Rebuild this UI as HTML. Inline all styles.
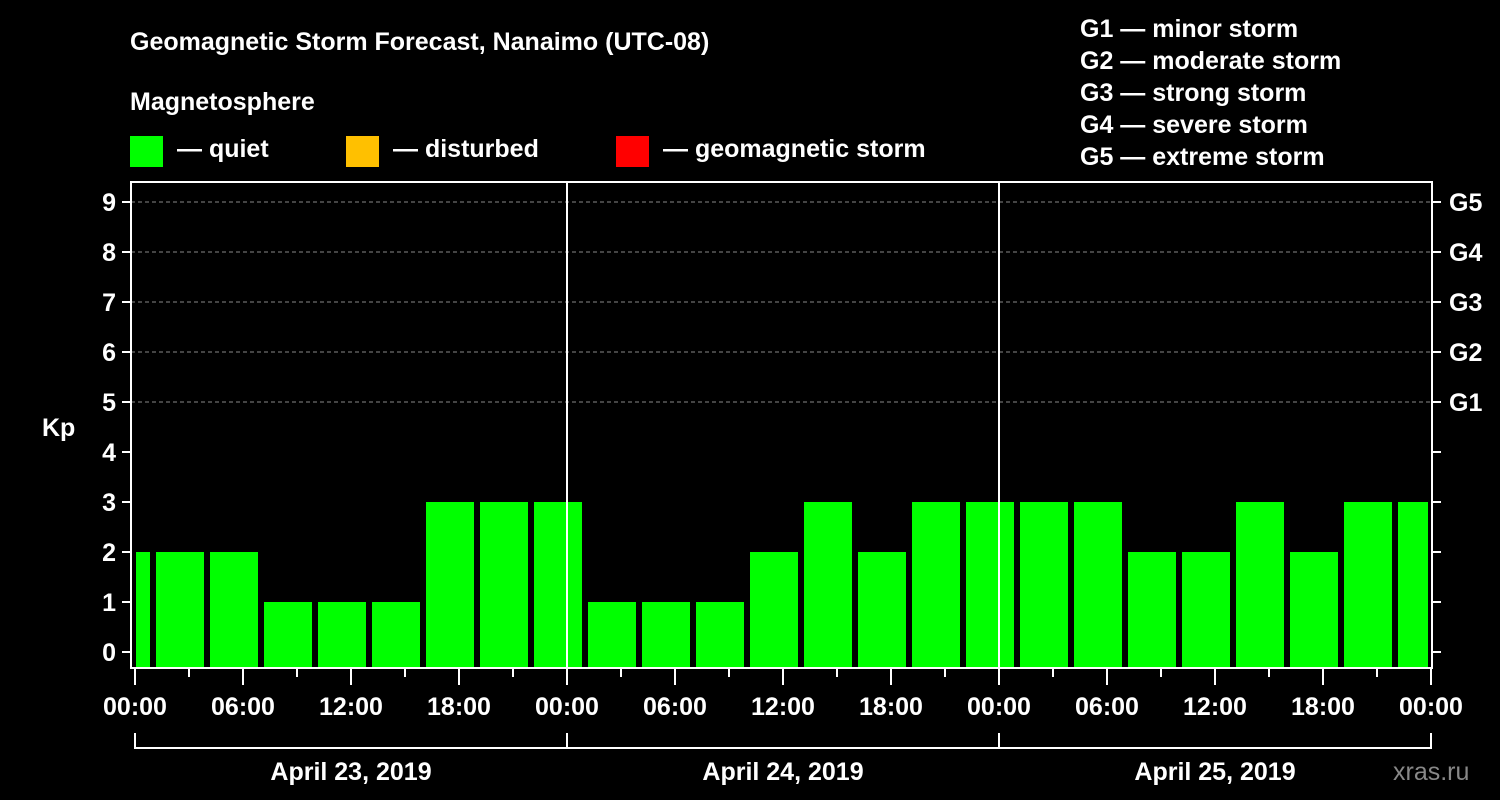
<!DOCTYPE html>
<html><head><meta charset="utf-8"><style>
body{margin:0;background:#000;}
svg{display:block;font-family:"Liberation Sans",sans-serif;font-weight:bold;}
</style></head><body>
<svg id="c" width="1500" height="800">
<rect x="0" y="0" width="1500" height="800" fill="#000"/>
<text x="130" y="50" fill="#fff" font-size="25">Geomagnetic Storm Forecast, Nanaimo (UTC-08)</text>
<text x="130" y="110" fill="#fff" font-size="25">Magnetosphere</text>
<rect x="130" y="136" width="33" height="31" fill="#00ff00"/>
<text x="177" y="157" fill="#fff" font-size="25">— quiet</text>
<rect x="346" y="136" width="33" height="31" fill="#ffc000"/>
<text x="393" y="157" fill="#fff" font-size="25">— disturbed</text>
<rect x="616" y="136" width="33" height="31" fill="#ff0000"/>
<text x="663" y="157" fill="#fff" font-size="25">— geomagnetic storm</text>
<g fill="#fff" font-size="25">
<text x="1080" y="37">G1 — minor storm</text>
<text x="1080" y="69">G2 — moderate storm</text>
<text x="1080" y="101">G3 — strong storm</text>
<text x="1080" y="133">G4 — severe storm</text>
<text x="1080" y="165">G5 — extreme storm</text>
</g>
<text x="42" y="436" fill="#fff" font-size="25">Kp</text>
<text x="1393" y="780" fill="#888" font-size="25" font-weight="normal">xras.ru</text>
<g id="plot"></g>
</svg>
<script>
const values = [2,2,2,1,1,1,3,3,3,1,1,1,2,3,2,3,3,3,3,2,2,3,2,3,3];
const yTicks = [0,1,2,3,4,5,6,7,8,9];
const gLabels = ["G1","G2","G3","G4","G5"];
const gLevels = [5,6,7,8,9];
const xLabels = ["00:00","06:00","12:00","18:00","00:00","06:00","12:00","18:00","00:00","06:00","12:00","18:00","00:00"];
const dayLabels = ["April 23, 2019","April 24, 2019","April 25, 2019"];

const NS="http://www.w3.org/2000/svg";
const g=document.getElementById('plot');
const L=131,R=1432,T=182,B=668,X0=135,PXH=18;
const y=v=>652-v*50;
const x=h=>X0+h*PXH;
function mk(t,a,p){const e=document.createElementNS(NS,t);for(const k in a)e.setAttribute(k,a[k]);(p||g).appendChild(e);return e;}
// grid
gLevels.forEach(v=>{const e=mk('line',{x1:L,x2:R,y1:y(v),y2:y(v),stroke:'#888','stroke-dasharray':'4,3','stroke-width':1});

});
// bars
values.forEach((v,i)=>{const h0=1+3*(i-1);let x1=Math.max(x(h0)+3,136),x2=Math.min(x(h0+3)-3,1428);
const e=mk('rect',{x:x1,y:y(v),width:x2-x1,height:B-y(v),fill:'#00ff00'});

});
// frame
const fr=mk('rect',{x:L,y:T,width:R-L,height:B-T,fill:'none',stroke:'#fff','stroke-width':2});


[1,2].forEach(d=>{const e=mk('line',{x1:x(24*d),x2:x(24*d),y1:T,y2:B,stroke:'#fff','stroke-width':2});

});
// y ticks
yTicks.forEach(v=>{mk('line',{x1:122,x2:L,y1:y(v),y2:y(v),stroke:'#fff','stroke-width':2});
mk('line',{x1:R,x2:1441,y1:y(v),y2:y(v),stroke:'#fff','stroke-width':2});
const t=mk('text',{x:116,y:y(v)+9,fill:'#fff','font-size':25,'text-anchor':'end'});t.textContent=v;

});
gLabels.forEach((s,i)=>{const t=mk('text',{x:1449,y:y(gLevels[i])+9,fill:'#fff','font-size':25});t.textContent=s;

});
// x ticks
for(let h=0;h<=72;h+=3){const major=h%6===0;mk('line',{x1:x(h),x2:x(h),y1:B,y2:major?685:677,stroke:'#fff','stroke-width':2});}
xLabels.forEach((s,i)=>{const t=mk('text',{x:x(6*i),y:715,fill:'#fff','font-size':25,'text-anchor':'middle'});t.textContent=s;

});
// day brackets
mk('line',{x1:x(0),x2:x(72),y1:748,y2:748,stroke:'#fff','stroke-width':2});
for(let d=0;d<=3;d++)mk('line',{x1:x(24*d),x2:x(24*d),y1:733,y2:749,stroke:'#fff','stroke-width':2});
dayLabels.forEach((s,i)=>{const t=mk('text',{x:x(24*i+12),y:780,fill:'#fff','font-size':25,'text-anchor':'middle'});t.textContent=s;

});
</script>
</body></html>
